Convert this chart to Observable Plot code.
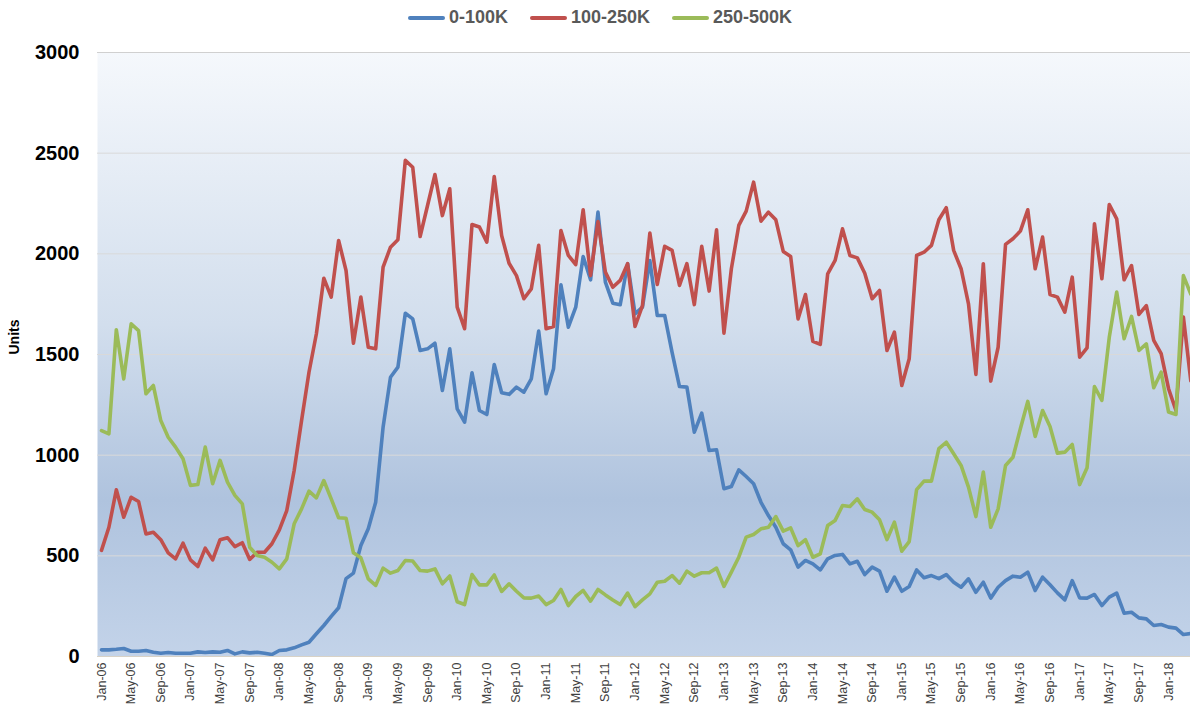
<!DOCTYPE html>
<html>
<head>
<meta charset="utf-8">
<script src="https://cdn.jsdelivr.net/npm/d3@7"></script>
<script src="https://cdn.jsdelivr.net/npm/@observablehq/plot@0.6"></script>
<style>
  html, body { margin: 0; padding: 0; background: #fff; }
  body { width: 1190px; height: 707px; overflow: hidden; font-family: "Liberation Sans", Arial, sans-serif; }
  #legend { height: 35px; display: flex; justify-content: center; align-items: center; gap: 22px; padding-left: 10px; box-sizing: border-box; }
  .item { display: flex; align-items: center; gap: 4px; font-weight: bold; font-size: 18px; color: #595959; }
  .sw { width: 37px; height: 4px; border-radius: 2px; }
</style>
</head>
<body>
<div id="legend"></div>
<div id="chart"></div>
<script>
const seriesNames = ["0-100K", "100-250K", "250-500K"];
const seriesColors = ["#4f81bd", "#c0504d", "#9bbb59"];

const tickLabels = ["Jan-06","May-06","Sep-06","Jan-07","May-07","Sep-07","Jan-08","May-08","Sep-08",
  "Jan-09","May-09","Sep-09","Jan-10","May-10","Sep-10","Jan-11","May-11","Sep-11","Jan-12","May-12","Sep-12",
  "Jan-13","May-13","Sep-13","Jan-14","May-14","Sep-14","Jan-15","May-15","Sep-15","Jan-16","May-16","Sep-16",
  "Jan-17","May-17","Sep-17","Jan-18"];

const yTicks = [0, 500, 1000, 1500, 2000, 2500, 3000];

// monthly values, Jan-06 .. Apr-18
const s0_100K = [33,33,36,40,26,26,30,21,16,20,16,16,
  16,23,20,23,21,30,13,23,18,21,16,10,
  30,33,43,58,71,113,154,199,242,387,414,551,
  635,766,1139,1387,1437,1705,1677,1520,1528,1556,1321,1528,
  1230,1164,1409,1222,1202,1450,1310,1302,1338,1313,1379,1616,
  1305,1429,1846,1636,1735,1987,1871,2207,1859,1755,1747,1951,
  1702,1735,1967,1694,1694,1511,1341,1338,1114,1209,1023,1027,
  833,844,927,894,858,766,700,642,560,530,444,477,
  460,430,485,502,507,460,473,407,444,424,324,394,
  324,348,430,391,402,387,407,369,344,386,319,369,
  290,344,377,399,394,419,328,394,356,316,281,377,
  291,290,308,253,295,315,215,220,192,187,154,159,
  146,141,109,114];

const s100_250K = [527,642,828,692,791,770,609,617,580,515,485,563,
  480,447,538,480,580,590,546,565,482,518,518,560,
  629,725,924,1172,1412,1603,1879,1785,2066,1917,1556,1785,
  1536,1528,1934,2033,2070,2464,2430,2086,2240,2394,2190,2323,
  1735,1628,2146,2133,2058,2384,2091,1953,1892,1777,1826,2042,
  1628,1639,2116,1992,1947,2219,1892,2160,1909,1834,1868,1951,
  1639,1743,2103,1848,2037,2017,1843,1951,1748,2037,1815,2119,
  1606,1926,2141,2212,2356,2162,2207,2169,2012,1987,1677,1798,
  1565,1550,1901,1967,2124,1992,1980,1904,1777,1818,1520,1611,
  1346,1479,1992,2008,2042,2169,2229,2017,1926,1752,1401,1951,
  1368,1536,2047,2075,2113,2219,1926,2083,1798,1785,1710,1884,
  1487,1533,2149,1876,2245,2174,1871,1942,1699,1743,1570,1504,
  1330,1222,1686,1370];

const s250_500K = [1122,1106,1623,1379,1652,1619,1305,1346,1172,1089,1040,982,
  850,854,1040,858,974,866,800,758,543,502,493,468,
  435,485,659,733,821,788,874,783,689,687,515,490,
  386,353,439,414,427,477,474,427,424,435,361,400,
  272,258,407,356,356,405,323,361,324,291,290,300,
  258,278,333,253,298,328,275,333,306,281,258,315,
  248,281,311,369,374,402,364,424,399,416,416,439,
  348,419,493,593,606,634,642,695,623,639,551,580,
  493,510,651,676,750,745,783,730,717,679,581,667,
  523,571,829,871,871,1032,1064,1007,949,841,695,916,
  642,733,949,990,1131,1267,1093,1222,1142,1010,1015,1053,
  854,937,1341,1272,1586,1810,1578,1689,1520,1553,1335,1412,
  1214,1202,1892,1800];

const seriesValues = [s0_100K, s100_250K, s250_500K];

// legend
const legend = document.getElementById("legend");
seriesNames.forEach((n, k) => {
  const it = document.createElement("div");
  it.className = "item";
  it.innerHTML = `<span class="sw" style="background:${seriesColors[k]}"></span><span>${n}</span>`;
  legend.appendChild(it);
});

const rows = [];
seriesValues.forEach((vals, k) => vals.forEach((v, i) => rows.push({i, v, s: seriesNames[k]})));

const tickIdx = tickLabels.map((_, k) => k * 4);

const chart = Plot.plot({
  width: 1190,
  height: 672,
  marginLeft: 97,
  marginRight: 0,
  marginTop: 17,
  marginBottom: 51,
  style: {fontFamily: "'Liberation Sans', Arial, sans-serif", background: "transparent", overflow: "hidden"},
  x: {domain: [-0.54, 146.96], axis: null},
  y: {domain: [0, 3000], axis: null},
  color: {domain: seriesNames, range: seriesColors},
  marks: [
    Plot.frame({fill: "url(#bgGrad)", stroke: null}),
    Plot.gridY([500, 1000, 1500, 2000, 2500], {stroke: "#d9d9d9", strokeOpacity: 1}),
    Plot.ruleY([3000], {stroke: "#d0d0d0", strokeWidth: 1.2}),
    Plot.ruleY([0], {stroke: "#d8d2c6", strokeWidth: 1.2}),
    Plot.axisY({ticks: yTicks, tickFormat: (d) => String(d), tickSize: 0, tickPadding: 18,
      fontSize: 20, fontWeight: "bold", fill: "#000", label: null}),
    Plot.axisX({ticks: tickIdx, tickFormat: (d) => tickLabels[Math.round(d / 4)], tickSize: 0,
      tickRotate: -90, tickPadding: 6, fontSize: 12.5, fill: "#404040", label: null}),
    Plot.text(["Units"], {frameAnchor: "left", dx: -83, rotate: -90, fontSize: 14, fontWeight: "bold", fill: "#000"}),
    Plot.line(rows, {x: "i", y: "v", z: "s", stroke: "s", strokeWidth: 3.6, strokeLinejoin: "round", strokeLinecap: "round", clip: true})
  ]
});

const ns = "http://www.w3.org/2000/svg";
const defs = document.createElementNS(ns, "defs");
defs.innerHTML = `<linearGradient id="bgGrad" x1="0" y1="0" x2="0" y2="1">
  <stop offset="0" stop-color="#f5f8fc"/>
  <stop offset="0.45" stop-color="#d2deed"/>
  <stop offset="0.74" stop-color="#afc3de"/>
  <stop offset="1" stop-color="#c3d3e9"/>
</linearGradient>`;
chart.insertBefore(defs, chart.firstChild);
document.getElementById("chart").appendChild(chart);
</script>
</body>
</html>
